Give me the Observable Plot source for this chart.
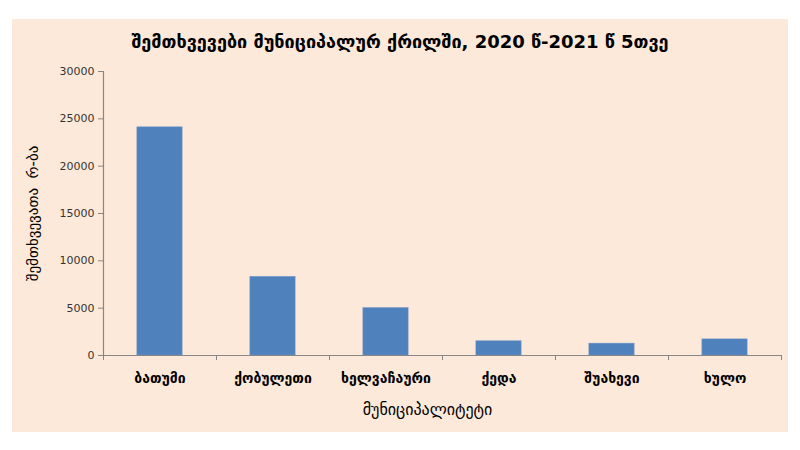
<!DOCTYPE html>
<html>
<head>
<meta charset="utf-8">
<script src="https://cdn.jsdelivr.net/npm/d3@7"></script>
<script src="https://cdn.jsdelivr.net/npm/@observablehq/plot@0.6"></script>
<style>
  html, body { margin: 0; padding: 0; background: #ffffff; width: 800px; height: 450px; overflow: hidden; }
  #panel { position: absolute; left: 12px; top: 19px; width: 776px; height: 413px; background: #fde9d9; }
  #title { position: absolute; left: 0; top: 12px; width: 776px; text-align: center;
           font-family: "DejaVu Sans", sans-serif; font-weight: bold; font-size: 18px; color: #000; }
  #chart { position: absolute; left: 0; top: 0; }
</style>
</head>
<body>
<div id="panel">
  <div id="chart"></div>
  <div id="title">შემთხვევები მუნიციპალურ ქრილში, 2020 წ-2021 წ 5თვე</div>
</div>
<script>
const categories = ["ბათუმი", "ქობულეთი", "ხელვაჩაური", "ქედა", "შუახევი", "ხულო"];
const values = [24100, 8300, 5000, 1500, 1250, 1700];
const yTicks = [0, 5000, 10000, 15000, 20000, 25000, 30000];
const yLabel = "შემთხვევათა  რ-ბა";
const xLabel = "მუნიციპალიტეტი";

const data = categories.map((c, i) => ({ name: c, value: values[i], i }));
const n = categories.length;
const font = "DejaVu Sans, sans-serif";

const chart = Plot.plot({
  width: 776,
  height: 413,
  marginLeft: 91,
  marginRight: 7,
  marginTop: 52,
  marginBottom: 77,
  style: { background: "transparent", fontFamily: font, overflow: "visible" },
  x: { type: "linear", domain: [0, n] },
  y: { domain: [0, 30000] },
  marks: [
    Plot.rectY(data, { x1: d => d.i + 0.3, x2: d => d.i + 0.7, y: "value", fill: "#4f81bd", stroke: "#6e95c8", strokeWidth: 0.6 }),
    Plot.ruleX([0], { stroke: "#868686", strokeWidth: 1.2 }),
    Plot.ruleY([0], { stroke: "#868686", strokeWidth: 1.2 }),
    Plot.axisY({ ticks: yTicks, tickSize: 5, tickPadding: 4, tickFormat: d => String(d), label: null,
                 fontSize: 11, color: "#333333", stroke: "#868686" }),
    Plot.axisX({ ticks: d3.range(n + 1), tickSize: 5, tickFormat: () => "", label: null, stroke: "#868686" }),
    Plot.axisX({ ticks: d3.range(n).map(i => i + 0.5), tickSize: 0, tickPadding: 18,
                 tickFormat: t => categories[Math.floor(t)], label: null, fontSize: 14, fontWeight: "bold", fill: "#000" }),
    Plot.text([yLabel], { frameAnchor: "left", text: d => d, rotate: -90, dx: -70, textAnchor: "middle",
                          fontSize: 15, fill: "#000" }),
    Plot.text([xLabel], { frameAnchor: "bottom", text: d => d, dy: 59, dx: -15, textAnchor: "middle",
                          fontSize: 16, fill: "#000" })
  ]
});
document.getElementById("chart").appendChild(chart);
</script>
</body>
</html>
